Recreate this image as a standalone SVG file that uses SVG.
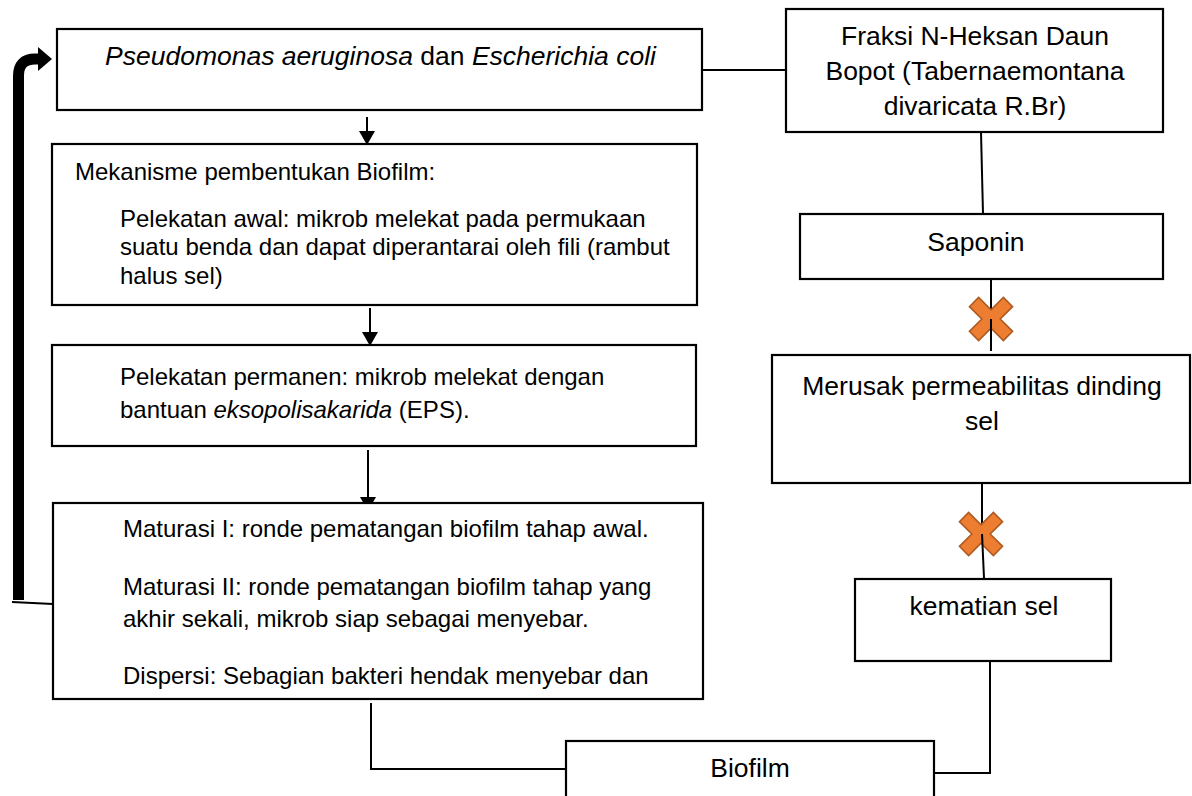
<svg xmlns="http://www.w3.org/2000/svg" width="1192" height="796" viewBox="0 0 1192 796">
<style>
.box{fill:#fff;stroke:#000;stroke-width:2.2}
.t{font-family:"Liberation Sans",Arial,sans-serif;fill:#000}
.big{font-size:26.5px}
.sm{font-size:24px}
.c{text-anchor:middle}
.ln{fill:none;stroke:#000;stroke-width:2}
.x{fill:#ED7D31;stroke:#AE5A21;stroke-width:1.6}
</style>
<defs>
<marker id="ah" markerWidth="14" markerHeight="16" refX="14" refY="8" orient="auto" markerUnits="userSpaceOnUse">
<path d="M0,0 L14,8 L0,16 Z" fill="#000"/>
</marker>
<clipPath id="clip4"><rect x="53" y="503" width="650" height="186"/></clipPath>
<path id="cross" d="M-6.5,-24 H6.5 V-6.5 H24 V6.5 H6.5 V24 H-6.5 V6.5 H-24 V-6.5 H-6.5 Z" transform="rotate(45)"/>
</defs>

<rect x="0" y="0" width="1192" height="796" fill="#fff"/>

<g id="connectors">
<line class="ln" x1="367" y1="117" x2="367" y2="145" marker-end="url(#ah)"/>
<line class="ln" x1="370" y1="308" x2="370" y2="346" marker-end="url(#ah)"/>
<line class="ln" x1="368" y1="450" x2="368" y2="511" marker-end="url(#ah)"/>
<line class="ln" x1="702" y1="70" x2="786" y2="70"/>
<line class="ln" x1="981" y1="132" x2="983" y2="214"/>
<line class="ln" x1="991" y1="279" x2="991" y2="319"/>
<line class="ln" x1="982" y1="483" x2="982" y2="534"/>
<polyline class="ln" points="990,661 990,773 934,773"/>
<polyline class="ln" points="371,703 371,769 566,769"/>
<path d="M18.5,600 V76 Q18.5,59 35,59 H40" fill="none" stroke="#000" stroke-width="11"/>
<polygon points="38,47 52,59 38,71" fill="#000"/>
<line class="ln" x1="12" y1="602" x2="53" y2="604"/>
</g>

<g id="node-bacteria">
<rect class="box" x="57" y="29" width="645" height="81"/>
<text class="t big" x="105" y="65"><tspan font-style="italic">Pseudomonas aeruginosa</tspan> dan <tspan font-style="italic">Escherichia coli</tspan></text>
</g>

<g id="node-mekanisme">
<rect class="box" x="52" y="144" width="645" height="161"/>
<text class="t sm" x="75" y="180">Mekanisme pembentukan Biofilm:</text>
<text class="t sm" x="120" y="227">Pelekatan awal: mikrob melekat pada permukaan</text>
<text class="t sm" x="120" y="255">suatu benda dan dapat diperantarai oleh fili (rambut</text>
<text class="t sm" x="120" y="284">halus sel)</text>
</g>

<g id="node-permanen">
<rect class="box" x="52" y="345" width="644" height="101"/>
<text class="t sm" x="120" y="385">Pelekatan permanen: mikrob melekat dengan</text>
<text class="t sm" x="120" y="418">bantuan <tspan font-style="italic">eksopolisakarida</tspan> (EPS).</text>
</g>

<g id="node-maturasi">
<rect class="box" x="53" y="503" width="650" height="196"/>
<g clip-path="url(#clip4)">
<text class="t sm" x="123" y="537">Maturasi I: ronde pematangan biofilm tahap awal.</text>
<text class="t sm" x="123" y="595">Maturasi II: ronde pematangan biofilm tahap yang</text>
<text class="t sm" x="123" y="627">akhir sekali, mikrob siap sebagai menyebar.</text>
<text class="t sm" x="123" y="684">Dispersi: Sebagian bakteri hendak menyebar dan</text>
</g>
</g>

<g id="node-fraksi">
<rect class="box" x="786" y="9" width="377" height="123"/>
<text class="t big c" x="975" y="45">Fraksi N-Heksan Daun</text>
<text class="t big c" x="975" y="80">Bopot (Tabernaemontana</text>
<text class="t big c" x="975" y="115">divaricata R.Br)</text>
</g>

<g id="node-saponin">
<rect class="box" x="800" y="214" width="363" height="65"/>
<text class="t big c" x="976" y="251">Saponin</text>
</g>

<g id="node-merusak">
<rect class="box" x="772" y="355" width="418" height="128"/>
<text class="t big c" x="982" y="395">Merusak permeabilitas dinding</text>
<text class="t big c" x="982" y="430">sel</text>
</g>

<g id="node-kematian">
<rect class="box" x="855" y="579" width="256" height="82"/>
<text class="t big c" x="984" y="615">kematian sel</text>
</g>

<g id="node-biofilm">
<rect class="box" x="566" y="741" width="368" height="70"/>
<text class="t big c" x="750" y="777">Biofilm</text>
</g>

<g id="marks">
<use href="#cross" class="x" x="991" y="319"/>
<line class="ln" x1="991" y1="319" x2="991" y2="351"/>
<use href="#cross" class="x" x="981" y="534"/>
<line class="ln" x1="982" y1="534" x2="984" y2="578"/>
</g>
</svg>
